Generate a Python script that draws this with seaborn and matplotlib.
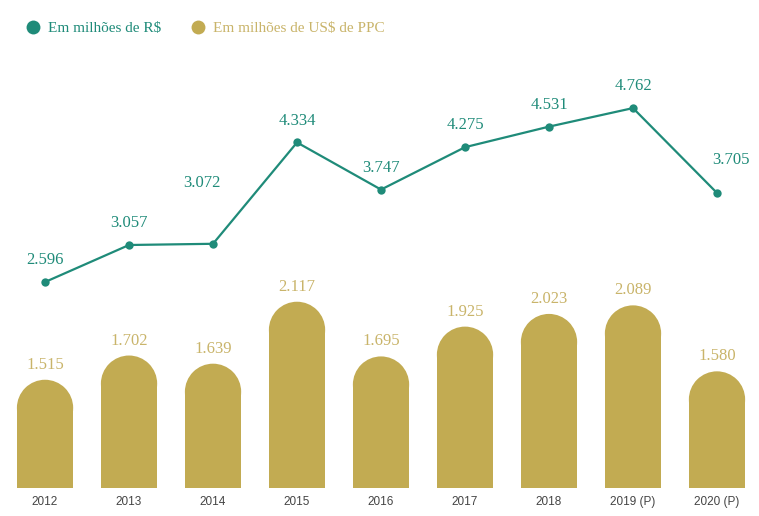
import matplotlib
matplotlib.use("Agg")
import matplotlib.pyplot as plt
import seaborn as sns
import pandas as pd
from matplotlib.patches import Ellipse
from matplotlib.lines import Line2D

# data
years = ["2012", "2013", "2014", "2015", "2016", "2017", "2018", "2019 (P)", "2020 (P)"]
brl_millions = [2596, 3057, 3072, 4334, 3747, 4275, 4531, 4762, 3705]
usd_ppc_millions = [1515, 1702, 1639, 2117, 1695, 1925, 2023, 2089, 1580]
legend_labels = ["Em milhões de R$", "Em milhões de US$ de PPC"]

TEAL = "#1f8b79"
GOLD = "#c2ab52"
GOLD_TXT = "#c9b46a"


def fmt(v):
    """Thousands separator as a dot (pt-BR)."""
    return f"{v:,}".replace(",", ".")


def main():
    sns.set_style("white")
    plt.rcParams["font.family"] = ["Liberation Serif", "DejaVu Serif"]

    df = pd.DataFrame({"year": years, "brl": brl_millions, "usd": usd_ppc_millions})
    df["pos"] = range(len(df))

    fig = plt.figure(figsize=(7.59, 5.16), dpi=100)
    ax_bar = fig.add_axes([0.004, 0.0543, 0.996, 0.4225])
    ax_line = fig.add_axes([0.004, 0.4186, 0.996, 0.465], sharex=ax_bar)

    # bars (bottom panel)
    sns.barplot(data=df, x="pos", y="usd", color=GOLD, width=0.67,
                saturation=1, ax=ax_bar, native_scale=True,
                linewidth=0, edgecolor="none")
    ax_bar.set_xlim(-0.5, len(df) - 0.5)
    ax_bar.set_ylim(680, 2362)

    # round the bar tops: shorten each bar by the cap radius, add an ellipse cap
    fig.canvas.draw()
    to_px = ax_bar.transData
    for p in list(ax_bar.patches):
        x0, w, h = p.get_x(), p.get_width(), p.get_height()
        px_w = to_px.transform((x0 + w, 0))[0] - to_px.transform((x0, 0))[0]
        y_per_px = 1.0 / (to_px.transform((0, 1001))[1] - to_px.transform((0, 1000))[1])
        r_y = px_w / 2 * y_per_px
        p.set_height(h - r_y)
        p.set_linewidth(0)
        ax_bar.add_patch(Ellipse((x0 + w / 2, h - r_y), w, 2 * r_y,
                                 facecolor=GOLD, edgecolor="none", linewidth=0))

    for i, v in enumerate(usd_ppc_millions):
        ax_bar.annotate(fmt(v), (i, v), xytext=(0, 5), textcoords="offset points",
                        ha="center", va="bottom", color=GOLD_TXT, fontsize=12)

    ax_bar.set_xticks(range(len(df)))
    ax_bar.set_xticklabels(years, fontfamily="Liberation Sans", fontsize=8.5,
                           color="#444444")
    ax_bar.tick_params(axis="x", length=0, pad=6)
    ax_bar.set_yticks([])
    ax_bar.set_xlabel("")
    ax_bar.set_ylabel("")

    # line (top panel)
    sns.lineplot(data=df, x="pos", y="brl", color=TEAL, linewidth=1.6,
                 marker="o", markersize=6, markeredgewidth=0, ax=ax_line)
    ax_line.set_ylim(2372, 5360)

    offsets = [(0, 10)] * len(df)
    offsets[2] = (-8, 38)
    offsets[8] = (10, 18)
    for i, v in enumerate(brl_millions):
        ax_line.annotate(fmt(v), (i, v), xytext=offsets[i], textcoords="offset points",
                         ha="center", va="bottom", color=TEAL, fontsize=12)
    ax_line.set_yticks([])
    ax_line.tick_params(axis="x", labelbottom=False, length=0)
    ax_line.set_xlabel("")
    ax_line.set_ylabel("")

    for ax in (ax_bar, ax_line):
        ax.patch.set_alpha(0)
        sns.despine(ax=ax, left=True, bottom=True)

    handles = [
        Line2D([], [], marker="o", linestyle="none", markersize=10,
               markerfacecolor=TEAL, markeredgewidth=0),
        Line2D([], [], marker="o", linestyle="none", markersize=10,
               markerfacecolor=GOLD, markeredgewidth=0),
    ]
    fig.legend(handles, legend_labels, loc="upper left", bbox_to_anchor=(0.005, 0.985),
               ncol=2, frameon=False, fontsize=11, handletextpad=0.0,
               columnspacing=1.4, labelcolor=[TEAL, GOLD_TXT])

    fig.savefig("out.png", dpi=100)


if __name__ == "__main__":
    main()
